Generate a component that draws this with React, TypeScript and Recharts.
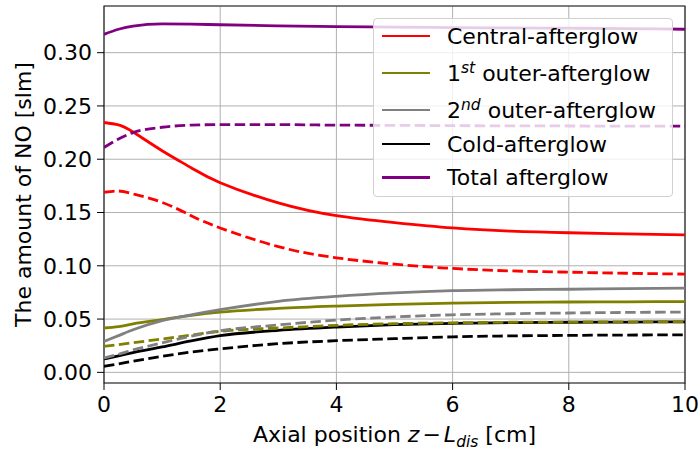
import React from 'react';
import {
  LineChart,
  Line,
  XAxis,
  YAxis,
  CartesianGrid,
  ReferenceArea,
} from 'recharts';

const positions = [0, 0.25, 0.5, 1, 1.5, 2, 3, 4, 5, 6, 7, 8, 9, 10];

const centralSolid = [0.2345, 0.2322, 0.2255, 0.208, 0.192, 0.178, 0.159, 0.147, 0.1405, 0.1355, 0.1325, 0.131, 0.13, 0.129];
const centralDashed = [0.169, 0.1702, 0.1675, 0.1595, 0.147, 0.1355, 0.118, 0.1075, 0.1015, 0.0975, 0.0952, 0.094, 0.093, 0.0922];
const outer1Solid = [0.0416, 0.043, 0.0455, 0.0494, 0.0535, 0.0565, 0.06, 0.0622, 0.0638, 0.065, 0.0656, 0.066, 0.0662, 0.0664];
const outer1Dashed = [0.0244, 0.026, 0.0278, 0.0313, 0.035, 0.0385, 0.0416, 0.0441, 0.0457, 0.0465, 0.047, 0.0472, 0.0473, 0.0474];
const outer2Solid = [0.029, 0.0345, 0.04, 0.0485, 0.054, 0.0588, 0.0666, 0.0713, 0.0745, 0.0766, 0.0775, 0.078, 0.0785, 0.079];
const outer2Dashed = [0.0135, 0.017, 0.021, 0.0276, 0.034, 0.039, 0.0445, 0.049, 0.052, 0.054, 0.055, 0.0557, 0.0562, 0.0566];
const coldSolid = [0.0126, 0.0155, 0.0185, 0.0238, 0.0295, 0.0344, 0.0394, 0.0425, 0.0447, 0.046, 0.0466, 0.047, 0.0472, 0.0474];
const coldDashed = [0.0056, 0.008, 0.0105, 0.015, 0.019, 0.022, 0.0269, 0.0297, 0.0316, 0.0333, 0.0342, 0.0347, 0.035, 0.0352];
const totalSolid = [0.3172, 0.322, 0.325, 0.327, 0.3268, 0.3262, 0.3252, 0.3245, 0.324, 0.3235, 0.3232, 0.323, 0.3225, 0.322];
const totalDashed = [0.211, 0.219, 0.225, 0.23, 0.232, 0.2325, 0.2325, 0.232, 0.2318, 0.2315, 0.2313, 0.2312, 0.231, 0.231];

const xTicks = [0, 2, 4, 6, 8, 10];
const yTicks = [0, 0.05, 0.1, 0.15, 0.2, 0.25, 0.3];

const data = positions.map((z, i) => ({
  z,
  centralSolid: centralSolid[i],
  centralDashed: centralDashed[i],
  outer1Solid: outer1Solid[i],
  outer1Dashed: outer1Dashed[i],
  outer2Solid: outer2Solid[i],
  outer2Dashed: outer2Dashed[i],
  coldSolid: coldSolid[i],
  coldDashed: coldDashed[i],
  totalSolid: totalSolid[i],
  totalDashed: totalDashed[i],
}));

const FONT = "'DejaVu Sans', sans-serif";
const FS = 22;
const RED = '#ff0000';
const OLIVE = '#808000';
const GRAY = '#808080';
const BLACK = '#000000';
const PURPLE = '#800080';
const LW = 2.8;
const DASH = '10.5 4.5';

const tickStyle = { fill: '#000', fontSize: FS, fontFamily: FONT };

function XLabel(props: any) {
  const vb = props.viewBox;
  const cx = vb.x + vb.width / 2;
  return (
    <text x={cx} y={vb.y + 59} textAnchor='middle' fontSize={FS} fontFamily={FONT} fill='#000'>
      Axial position <tspan fontStyle='italic'>z</tspan>
      <tspan dx={3}>−</tspan>
      <tspan dx={3} fontStyle='italic'>L</tspan>
      <tspan fontStyle='italic' fontSize={15.5} dy={5}>dis</tspan>
      <tspan dy={-5}> [cm]</tspan>
    </text>
  );
}

function YLabel(props: any) {
  const vb = props.viewBox;
  const cy = vb.y + vb.height / 2;
  return (
    <text
      x={31}
      y={cy}
      transform={`rotate(-90, 31, ${cy})`}
      textAnchor='middle'
      fontSize={FS}
      fontFamily={FONT}
      fill='#000'
    >
      The amount of NO [slm]
    </text>
  );
}

const supStyle: React.CSSProperties = { fontStyle: 'italic', fontSize: 15.5, position: 'relative', top: -8 };

const legendItems = [
  { color: RED, label: <>Central-afterglow</>, y: 36 },
  { color: OLIVE, label: <>1<span style={supStyle}>st</span> outer-afterglow</>, y: 73 },
  { color: GRAY, label: <>2<span style={supStyle}>nd</span> outer-afterglow</>, y: 110 },
  { color: BLACK, label: <>Cold-afterglow</>, y: 144 },
  { color: PURPLE, label: <>Total afterglow</>, y: 177.5 },
];

function LegendBox() {
  const left = 373;
  const top = 18;
  return (
    <div
      style={{
        position: 'absolute',
        left,
        top,
        width: 300,
        height: 179,
        boxSizing: 'border-box',
        background: 'rgba(255,255,255,0.8)',
        border: '1px solid #d0d0d0',
        borderRadius: 4,
        fontFamily: FONT,
        fontSize: FS,
        color: '#000',
      }}
    >
      {legendItems.map((it, i) => (
        <React.Fragment key={i}>
          <div
            style={{
              position: 'absolute',
              left: 8,
              top: it.y - top - LW / 2 - 1,
              width: 48,
              height: LW,
              background: it.color,
            }}
          />
          <div
            style={{
              position: 'absolute',
              left: 73,
              top: it.y - top - 13.5,
              whiteSpace: 'nowrap',
              lineHeight: '26px',
            }}
          >
            {it.label}
          </div>
        </React.Fragment>
      ))}
    </div>
  );
}

export default function App() {
  return (
    <div style={{ position: 'absolute', left: 0, top: 0, width: 699, height: 450, background: '#fff' }}>
      <LineChart width={699} height={450} data={data} margin={{ top: 6, right: 14, bottom: 0, left: 0 }}>
        <CartesianGrid stroke='#b0b0b0' strokeWidth={1} />
        <XAxis
          dataKey='z'
          type='number'
          domain={[0, 10]}
          ticks={xTicks}
          allowDataOverflow
          height={67}
          axisLine={false}
          tickLine={{ stroke: '#000' }}
          tickSize={7}
          tickMargin={6}
          tick={tickStyle}
          label={{ content: XLabel }}
        />
        <YAxis
          type='number'
          domain={[-0.01, 0.3438]}
          ticks={yTicks}
          allowDataOverflow
          width={104}
          axisLine={false}
          tickLine={{ stroke: '#000' }}
          tickSize={7}
          tickMargin={5}
          tick={tickStyle}
          tickFormatter={(v: number) => v.toFixed(2)}
          label={{ content: YLabel }}
        />
        <Line type='natural' dataKey='centralSolid' stroke={RED} strokeWidth={LW} dot={false} isAnimationActive={false} />
        <Line type='monotone' dataKey='outer1Solid' stroke={OLIVE} strokeWidth={LW} dot={false} isAnimationActive={false} />
        <Line type='monotone' dataKey='outer2Solid' stroke={GRAY} strokeWidth={LW} dot={false} isAnimationActive={false} />
        <Line type='monotone' dataKey='coldSolid' stroke={BLACK} strokeWidth={LW} dot={false} isAnimationActive={false} />
        <Line type='monotone' dataKey='totalSolid' stroke={PURPLE} strokeWidth={LW} dot={false} isAnimationActive={false} />
        <Line type='natural' dataKey='centralDashed' stroke={RED} strokeWidth={LW} strokeDasharray={DASH} dot={false} isAnimationActive={false} />
        <Line type='monotone' dataKey='outer1Dashed' stroke={OLIVE} strokeWidth={LW} strokeDasharray={DASH} dot={false} isAnimationActive={false} />
        <Line type='monotone' dataKey='outer2Dashed' stroke={GRAY} strokeWidth={LW} strokeDasharray={DASH} dot={false} isAnimationActive={false} />
        <Line type='monotone' dataKey='coldDashed' stroke={BLACK} strokeWidth={LW} strokeDasharray={DASH} dot={false} isAnimationActive={false} />
        <Line type='monotone' dataKey='totalDashed' stroke={PURPLE} strokeWidth={LW} strokeDasharray={DASH} dot={false} isAnimationActive={false} />
        <ReferenceArea x1={0} x2={10} y1={-0.01} y2={0.3438} fill='none' stroke='#222' strokeWidth={1.2} ifOverflow='visible' />
      </LineChart>
      <LegendBox />
    </div>
  );
}
